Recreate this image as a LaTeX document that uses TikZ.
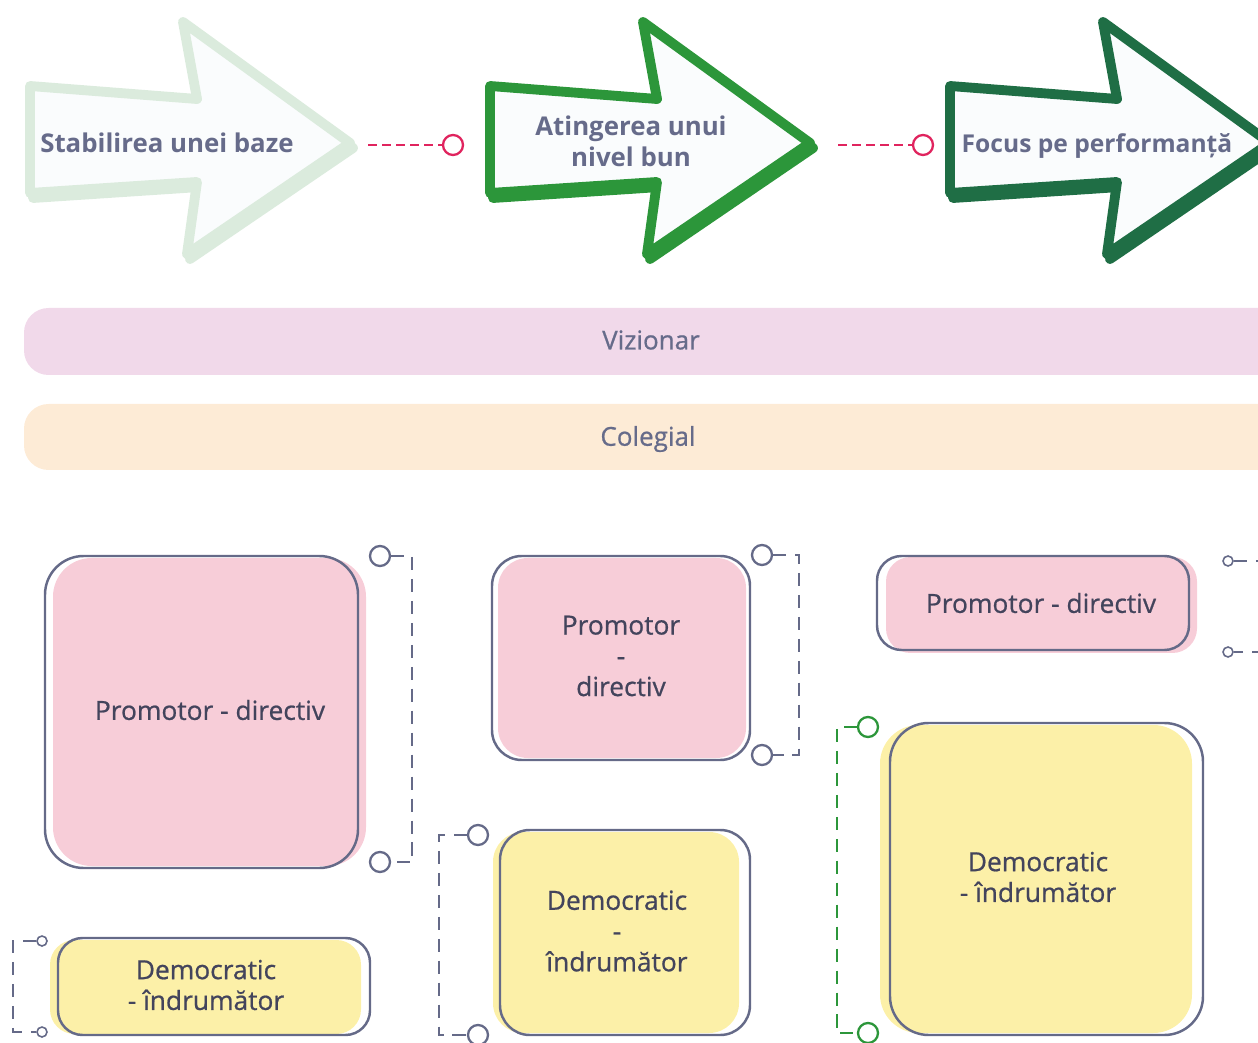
\documentclass[tikz,border=0pt]{standalone}
\usepackage{fontspec}
\setmainfont{Open Sans}
\newfontfamily\boxfont[FakeBold=0.7]{Open Sans}
\definecolor{arrA}{HTML}{DBEBDD}
\definecolor{arrB}{HTML}{2C963A}
\definecolor{arrC}{HTML}{1F6E45}
\definecolor{arrfill}{HTML}{FAFCFD}
\definecolor{headtxt}{HTML}{666B8A}
\definecolor{boxtxt}{HTML}{43445C}
\definecolor{outl}{HTML}{656A88}
\definecolor{pinkfill}{HTML}{F7CDD8}
\definecolor{yelfill}{HTML}{FCF0A8}
\definecolor{bandviz}{HTML}{F1D9EA}
\definecolor{bandcol}{HTML}{FDEBD6}
\definecolor{linkpink}{HTML}{E0245E}
\begin{document}
\begin{tikzpicture}[x=0.02cm, y=-0.02cm,
  headlbl/.style={text=headtxt, font=\bfseries\fontsize{14.7pt}{17.5pt}\selectfont, align=center},
  bandlbl/.style={text=headtxt, font=\boxfont\fontsize{14.8pt}{17.5pt}\selectfont},
  boxlbl/.style={text=boxtxt, font=\boxfont\fontsize{15pt}{17.5pt}\selectfont, align=center},
  frame/.style={draw=outl, line width=1.4pt, rounded corners=#1, inner sep=0pt},
  ring/.style={circle, draw=outl, line width=1.3pt, fill=white, minimum size=0.4cm, inner sep=0pt},
  dot/.style={circle, draw=outl, line width=0.9pt, fill=white, minimum size=0.2cm, inner sep=0pt},
  brk/.style={draw=outl, line width=1.1pt, dash pattern=on 7.5pt off 5pt},
  link/.style={draw=linkpink, line width=1.3pt, dash pattern=on 5pt off 3pt}]
\useasboundingbox (0,0) rectangle (1258,1043);

% arrows
\foreach \sx/\col in {0/arrA, 460/arrB, 920/arrC} {
  \begin{scope}[shift={(\sx,0)}, line join=round, line width=5.6pt]
    \draw[\col, shift={(3,5)}] (30,86) -- (197,99) -- (183,22) -- (350,143) -- (187,254) -- (197,182) -- (30,193) -- cycle;
    \draw[\col, fill=arrfill] (30,86) -- (197,99) -- (183,22) -- (350,143) -- (187,254) -- (197,182) -- (30,193) -- cycle;
  \end{scope}
}
\node[headlbl] (s1) at (167,143) {Stabilirea unei baze};
\node[headlbl] (s2) at (631,141) {Atingerea unui\\nivel bun};
\node[headlbl, font=\bfseries\fontsize{14pt}{17.5pt}\selectfont] (s3) at (1097,146) {Focus pe performanță};

\coordinate (t1) at (368,145);
\coordinate (t2) at (838,145);
\node[ring, draw=linkpink] (r1) at (453,145) {};
\node[ring, draw=linkpink] (r2) at (923,145) {};
\draw[link] (t1) -- (r1.west);
\draw[link] (t2) -- (r2.west);

% bands
\fill[bandviz, rounded corners=14pt] (24,308) rectangle (1300,375);
\fill[bandcol, rounded corners=14pt] (24,404) rectangle (1300,470);
\node[bandlbl] (viz) at (651,340) {Vizionar};
\node[bandlbl] (col) at (648,439) {Colegial};

% promotor - directiv
\fill[pinkfill, rounded corners=22pt] (53,558) rectangle (366,866);
\draw[frame=22pt] (45,556) rectangle (358,868);
\node[boxlbl] (p1) at (210,710) {Promotor - directiv};

\fill[pinkfill, rounded corners=17pt] (498,558) rectangle (746,758);
\draw[frame=17pt] (492,556) rectangle (750,760);
\node[boxlbl] (p2) at (621,656) {Promotor\\-\\directiv};

\fill[pinkfill, rounded corners=14pt] (886,557) rectangle (1197,653);
\draw[frame=14pt] (877,556) rectangle (1189,650);
\node[boxlbl] (p3) at (1041,603) {Promotor - directiv};

% democratic - indrumator
\fill[yelfill, rounded corners=14pt] (50,940) rectangle (361,1034);
\draw[frame=14pt] (58,938) rectangle (370,1035);
\node[boxlbl] (d1) at (206,985) {Democratic\\- îndrumător};

\fill[yelfill, rounded corners=17pt] (493,832) rectangle (739,1033);
\draw[frame=17pt] (500,830) rectangle (750,1035);
\node[boxlbl] (d2) at (617,931) {Democratic\\-\\îndrumător};

\fill[yelfill, rounded corners=22pt] (880,725) rectangle (1192,1033);
\draw[frame=22pt] (890,723) rectangle (1203,1035);
\node[boxlbl] (d3) at (1038,877) {Democratic\\- îndrumător};

% brackets
\node[ring] (b1a) at (380,556) {};
\node[ring] (b1b) at (380,862) {};
\draw[brk] (b1a.east) -- ++(21,0) |- (b1b.east);

\node[ring] (b2a) at (762,555) {};
\node[ring] (b2b) at (762,755) {};
\draw[brk] (b2a.east) -- ++(26,0) |- (b2b.east);

\node[dot] (b3a) at (1228,561) {};
\node[dot] (b3b) at (1228,652) {};
\draw[brk] (b3a.east) -- ++(25,0) |- (b3b.east);

\node[dot] (b4a) at (42,941) {};
\node[dot] (b4b) at (42,1032) {};
\draw[brk] (b4a.west) -- ++(-23,0) |- (b4b.west);

\node[ring] (b5a) at (478,835) {};
\node[ring] (b5b) at (478,1035) {};
\draw[brk] (b5a.west) -- ++(-28,0) |- (b5b.west);

\node[ring, draw=arrB] (b6a) at (868,727) {};
\node[ring, draw=arrB] (b6b) at (868,1033) {};
\draw[brk, draw=arrB, line width=1.4pt] (b6a.west) -- ++(-20,0) |- (b6b.west);
\end{tikzpicture}
\end{document}
